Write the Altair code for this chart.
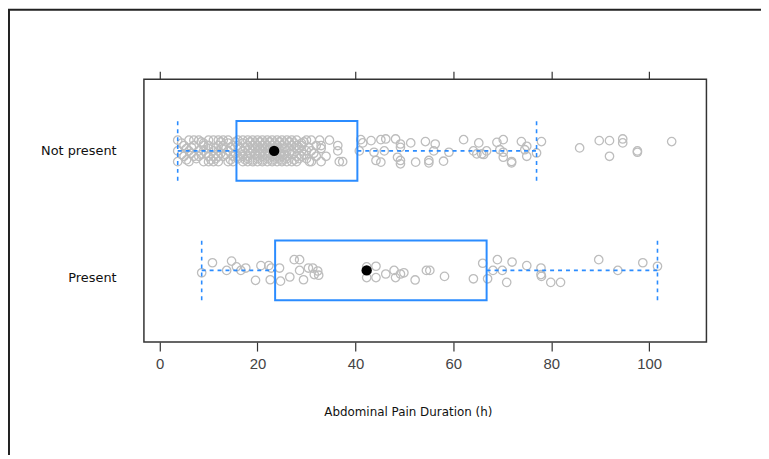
import altair as alt
import pandas as pd

# ---- categories / positions ----
groups = ["Not present", "Present"]
group_pos = [2, 1]

# ---- box statistics (hours) ----
box_low = [3.7, 8.6]
box_q1 = [15.7, 23.6]
box_med = [23.4, 42.3]
box_q3 = [40.4, 66.8]
box_high = [77.0, 101.7]

x_ticks = [0, 20, 40, 60, 80, 100]

# ---- "Not present" observations, grouped by their vertical jitter band ----
np_row_offsets = [0.09, 0.075, 0.065, 0.045, 0.03, 0.02, 0.0, -0.02, -0.03, -0.045, -0.065, -0.075, -0.09]
np_row_top = [3.7, 6, 7, 8, 10, 11, 12, 13, 14, 16, 17, 18, 19, 20, 21, 22, 23, 24, 25, 26, 27, 28, 30, 31, 32.7, 34.7]
np_row_075 = [8.5, 12.5, 15.5, 18.5, 20.5, 22.5, 24.5, 26.5, 29.5]
np_row_065 = [4.5, 9, 14, 17, 19.5, 21.5, 23.5, 25.5, 27.5, 29]
np_row_upper = [5, 7, 9, 10, 12, 13, 15, 16, 18, 19, 20, 21, 22, 23, 24, 24, 25, 27, 28, 29, 32, 33, 36.4]
np_row_030 = [6.5, 11, 14.5, 17.5, 20, 22, 24, 26, 28.5, 30.5]
np_row_020 = [5.5, 10, 13, 16.5, 19, 21, 23, 25, 28, 33]
np_row_mid = [3.7, 6, 8, 9, 11, 12, 14, 17, 18, 19, 20, 21, 22, 23, 24, 24, 26, 27, 29, 30, 31, 36.4]
np_row_m020 = [6.5, 9.5, 12.5, 15.5, 18.5, 20.5, 22.5, 24.5, 26.5, 31.5]
np_row_m030 = [4.5, 8.5, 13.5, 17, 19.5, 21.5, 23.5, 25.5, 27, 29.5]
np_row_lower = [5, 7, 8, 10, 11, 12, 13, 15, 16, 17, 18, 20, 21, 22, 23, 24, 24, 25, 26, 28, 29, 32, 34]
np_row_m065 = [7.5, 11.5, 16, 18, 20, 22, 24, 26, 28.5, 30]
np_row_m075 = [5.5, 10.5, 14.5, 17.5, 19, 21, 23, 25, 27.5]
np_row_bottom = [3.7, 6, 9, 10, 11, 12, 14, 15, 17, 18, 19, 20, 21, 22, 23, 24, 25, 26, 27, 28, 30.6, 31, 33, 36.7, 37.4]

# sparse right tail of "Not present"
np_tail_hours = [41.1, 41.5, 43.2, 45.2, 46.2, 48.2, 49.2, 51.3, 54.3, 56.3, 62.1, 65.2, 68.9, 70.2,
                 73.9, 75.0, 78.0, 85.8, 89.8, 91.9, 94.6, 94.6, 104.6,
                 40.8, 43.8, 45.9, 49.2, 56.0, 59.1, 64.1, 65.8, 66.8, 69.5, 70.2, 74.6, 77.0,
                 44.2, 45.2, 48.6, 49.2, 49.2, 52.3, 55.0, 55.0, 58.0, 64.8, 66.2, 70.2, 71.9,
                 71.9, 75.0, 91.9, 97.6, 97.6]
np_tail_jitter = [0.094, 0.067, 0.086, 0.094, 0.1, 0.1, 0.058, 0.067, 0.078, 0.058, 0.094, 0.067, 0.072, 0.094,
                  0.078, 0.039, 0.078, 0.025, 0.086, 0.086, 0.1, 0.067, 0.078,
                  0.0, -0.011, 0.0, 0.03, 0.0, -0.011, 0.0, -0.025, 0.0, 0.01, -0.011, 0.01, -0.017,
                  -0.08, -0.094, -0.053, -0.08, -0.108, -0.094, -0.08, -0.1, -0.086, -0.025, -0.03, -0.053, -0.089,
                  -0.1, -0.045, -0.045, 0.0, -0.011]

# ---- "Present" observations ----
pr_hours = [8.6, 10.8, 13.7, 14.7, 15.7, 16.6, 17.6, 19.6, 20.7, 22.3, 22.6, 22.8, 24.5, 24.7, 26.6,
            27.5, 28.6, 28.6, 29.4, 30.4, 31.3, 31.6, 32.3, 32.5, 42.3, 42.3, 44.2, 44.2, 46.2, 47.9,
            48.2, 49.2, 49.9, 52.2, 54.5, 55.2, 58.2, 64.1, 66.0, 67.0, 68.1, 69.0, 70.0, 70.9, 72.0,
            75.0, 77.9, 77.9, 78.0, 79.9, 81.9, 89.7, 93.6, 98.7, 101.7]
pr_jitter = [-0.02, 0.064, 0, 0.078, 0.03, 0, 0.02, -0.083, 0.04, 0.04, -0.078, 0.02, 0.02, -0.09, -0.055,
             0.09, 0.09, 0, -0.078, 0.02, 0.02, -0.035, -0.005, -0.04, 0.03, -0.06, 0.035, -0.06, -0.03, 0,
             -0.06, -0.03, -0.02, -0.08, 0, 0, -0.05, -0.07, 0.06, -0.07, 0, 0.09, 0, -0.1, 0.07,
             0.04, 0.02, -0.035, -0.05, -0.1, -0.1, 0.09, 0, 0.064, 0.035]

BLUE = "#2b8cff"

# ---- build tables ----
np_rows = [np_row_top, np_row_075, np_row_065, np_row_upper, np_row_030, np_row_020, np_row_mid,
           np_row_m020, np_row_m030, np_row_lower, np_row_m065, np_row_m075, np_row_bottom]
hours, ys = [], []
for off, row in zip(np_row_offsets, np_rows):
    for h in row:
        hours.append(h)
        ys.append(group_pos[0] + off)
for h, j in zip(np_tail_hours, np_tail_jitter):
    hours.append(h)
    ys.append(group_pos[0] + j)
for h, j in zip(pr_hours, pr_jitter):
    hours.append(h)
    ys.append(group_pos[1] + j)
points = pd.DataFrame({"hours": hours, "y": ys})

boxes = pd.DataFrame({
    "group": groups, "pos": group_pos, "low": box_low, "q1": box_q1,
    "med": box_med, "q3": box_q3, "high": box_high,
})
boxes["ylo"] = boxes["pos"] - 0.25
boxes["yhi"] = boxes["pos"] + 0.25

seg_rows = []
for _, r in boxes.iterrows():
    seg_rows.append({"x": r["low"], "x2": r["q1"], "y": r["pos"], "y2": r["pos"]})
    seg_rows.append({"x": r["q3"], "x2": r["high"], "y": r["pos"], "y2": r["pos"]})
    seg_rows.append({"x": r["low"], "x2": r["low"], "y": r["ylo"], "y2": r["yhi"]})
    seg_rows.append({"x": r["high"], "x2": r["high"], "y": r["ylo"], "y2": r["yhi"]})
segs = pd.DataFrame(seg_rows)

xscale = alt.Scale(domain=[-3.2, 111.7], nice=False, zero=False)
yscale = alt.Scale(domain=[0.4, 2.6], nice=False, zero=False)

# outer decorative frame
frame = alt.Chart(pd.DataFrame({"a": [0]})).mark_rect(
    fill=None, fillOpacity=0, stroke="#222", strokeWidth=2
).encode(
    x=alt.value(-136), x2=alt.value(720), y=alt.value(-70), y2=alt.value(460)
)

pts = alt.Chart(points).mark_point(
    shape="circle", filled=False, color="#bdbdbd", size=72, strokeWidth=1.3, opacity=1
).encode(
    x=alt.X("hours:Q", scale=xscale, axis=alt.Axis(
        orient="bottom", values=x_ticks, title="Abdominal Pain Duration (h)",
        grid=False, domain=False, tickSize=9, tickColor="#333", tickWidth=1.2,
        labelFont="Liberation Sans", labelFontSize=15, labelColor="#444", labelPadding=6,
        titleFont="DejaVu Sans", titleFontSize=12, titleFontWeight="normal",
        titleColor="#111", titlePadding=35, titleX=266, titleAlign="center")),
    y=alt.Y("y:Q", scale=yscale, axis=alt.Axis(
        values=[1, 2], labelExpr="datum.value == 2 ? 'Not present' : 'Present'",
        labelOffset={"condition": {"test": "datum.value == 1", "value": 7}, "value": 0},
        ticks=False, domain=False, grid=False, title=None, labelPadding=28,
        labelFont="DejaVu Sans", labelFontSize=13, labelColor="#111")),
)

whisk = alt.Chart(segs).mark_rule(
    color=BLUE, strokeWidth=1.6, strokeDash=[4, 4]
).encode(
    x=alt.X("x:Q", scale=xscale, axis=None), x2="x2:Q",
    y=alt.Y("y:Q", scale=yscale, axis=None), y2="y2:Q",
)

box = alt.Chart(boxes).mark_rect(
    fill=None, fillOpacity=0, stroke=BLUE, strokeWidth=2
).encode(
    x=alt.X("q1:Q", scale=xscale, axis=alt.Axis(
        orient="top", values=x_ticks, labels=False, title=None, grid=False,
        domain=False, tickSize=8, tickColor="#333", tickWidth=1.2)),
    x2="q3:Q",
    y=alt.Y("ylo:Q", scale=yscale, axis=None), y2="yhi:Q",
)

med = alt.Chart(boxes).mark_point(
    shape="circle", filled=True, color="black", size=110, opacity=1
).encode(
    x=alt.X("med:Q", scale=xscale, axis=None),
    y=alt.Y("pos:Q", scale=yscale, axis=None),
)

chart = alt.layer(frame, pts, whisk, box, med).resolve_axis(
    x="independent", y="independent"
).properties(
    width=567, height=265,
    background="white",
    autosize=alt.AutoSizeParams(type="none"),
    padding={"left": 137, "top": 70, "right": 55, "bottom": 112},
).configure_view(
    stroke="#333", strokeWidth=1.5
)

chart.save("out.html", embed_options={"renderer": "svg", "actions": False})
